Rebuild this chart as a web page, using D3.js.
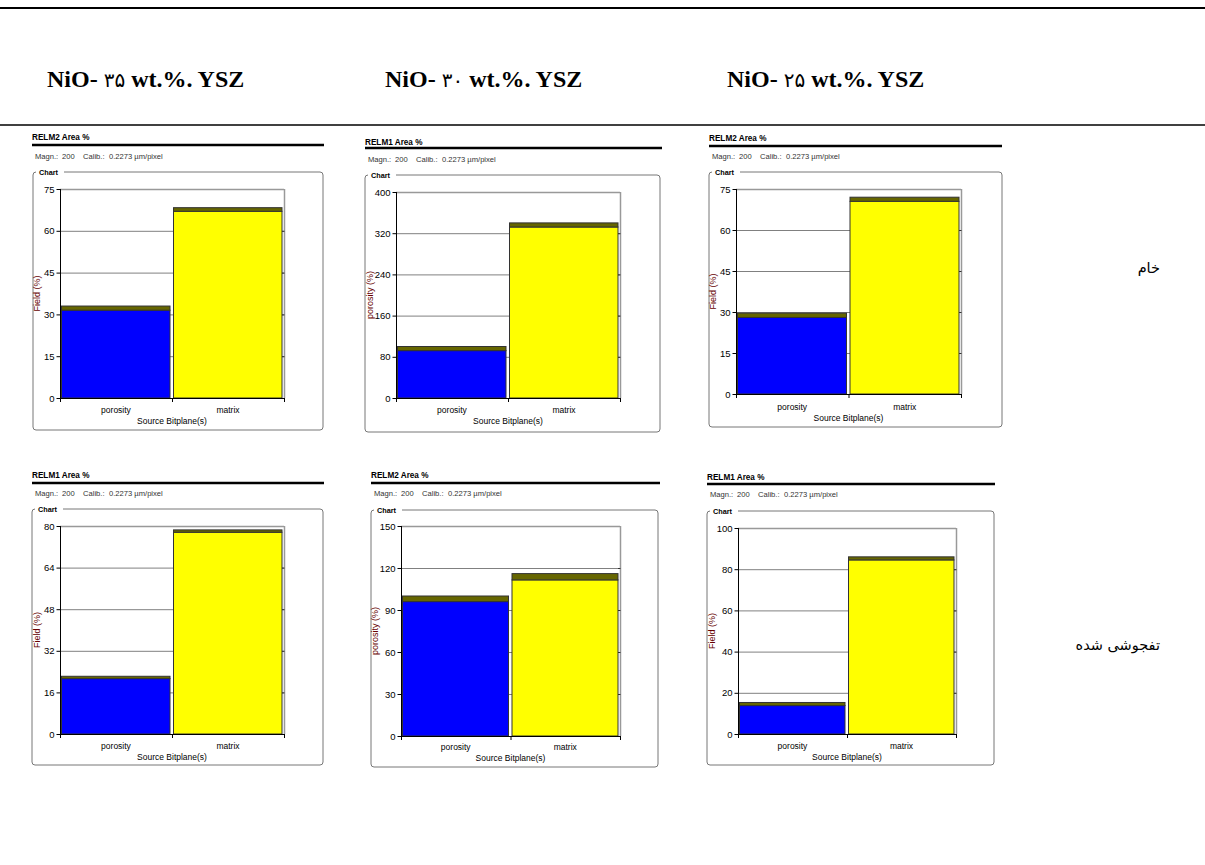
<!DOCTYPE html>
<html><head><meta charset="utf-8">
<script src="https://cdn.jsdelivr.net/npm/d3@7"></script>
<style>html,body{margin:0;padding:0;background:#fff;}svg{display:block;}</style>
</head><body>
<svg id="c" width="1205" height="865"></svg>
<script>
// ---------- data ----------
const columnPrefix = "NiO- ";
const columnNumbers = ["۳۵", "۳۰", "۲۵"];
const columnSuffix = " wt.%. YSZ";
const rowLabels = ["خام", "تفجوشی شده"];
const categories = ["porosity", "matrix"];
const panelTitles = ["RELM2 Area %", "RELM1 Area %", "RELM2 Area %", "RELM1 Area %", "RELM2 Area %", "RELM1 Area %"];
const yTitles = ["Field (%)", "porosity (%)", "Field (%)", "Field (%)", "porosity (%)", "Field (%)"];
const yTicks = [
  [0, 15, 30, 45, 60, 75],
  [0, 80, 160, 240, 320, 400],
  [0, 15, 30, 45, 60, 75],
  [0, 16, 32, 48, 64, 80],
  [0, 30, 60, 90, 120, 150],
  [0, 20, 40, 60, 80, 100]
];
// main value of each bar [porosity, matrix]
const meanValues = [
  [31.5, 67.0],
  [92, 332],
  [28.0, 70.5],
  [21.3, 77.6],
  [96, 111.5],
  [13.8, 84.5]
];
// dark top segment stacked on each bar [porosity, matrix]
const devValues = [
  [1.5, 1.3],
  [8, 8],
  [1.6, 1.5],
  [0.9, 0.9],
  [4, 4.5],
  [1.5, 1.5]
];
const magnLabel = "Magn.:", magnValue = "200", calibLabel = "Calib.:", calibValue = "0.2273 µm/pixel";
const xTitle = "Source Bitplane(s)";

// ---------- layout ----------
const layout = [
  {tx:32, ty:140, ly:145, lx2:324, my:159, box:[33,172,323,430], plot:[60,284,189,398], cy:413, sy:424},
  {tx:365, ty:145, ly:148, lx2:662, my:162, box:[365,175,660,432], plot:[396,620,192,398], cy:413, sy:424},
  {tx:709, ty:141, ly:146, lx2:1002, my:159, box:[709,172,1002,427], plot:[736,961,189,394], cy:410, sy:421},
  {tx:32, ty:478, ly:483, lx2:324, my:496, box:[32,509,323,765], plot:[60,284,526,734], cy:749, sy:760},
  {tx:371, ty:478, ly:483, lx2:660, my:496, box:[371,510,658,767], plot:[401,620,526,736], cy:750, sy:761},
  {tx:707, ty:480, ly:484, lx2:995, my:497, box:[707,511,994,765], plot:[738,956,528,734], cy:749, sy:760}
];
const colors = {porosity:"#0000ff", matrix:"#ffff00", dev:"#666600"};
const sans = "Arial, 'Liberation Sans', sans-serif";

const svg = d3.select("#c");

// header
svg.append("line").attr("x1",0).attr("x2",1205).attr("y1",8).attr("y2",8).attr("stroke","#000").attr("stroke-width",2);
svg.append("line").attr("x1",0).attr("x2",1205).attr("y1",125).attr("y2",125).attr("stroke","#000").attr("stroke-width",1.5);
const headerX = [47, 385, 727];
columnNumbers.forEach((n,i)=>{
  const t = svg.append("text").attr("x",headerX[i]).attr("y",87)
    .attr("font-family","'Liberation Serif','Times New Roman',serif").attr("font-weight","bold")
    .attr("font-size",24).attr("fill","#000");
  t.append("tspan").text(columnPrefix);
  t.append("tspan").attr("font-family","'DejaVu Sans',sans-serif").attr("font-weight","normal").attr("font-size",20).text(n);
  t.append("tspan").text(columnSuffix);
});
const rowY = [273, 650];
rowLabels.forEach((t,i)=>{
  svg.append("text").attr("x",1160).attr("y",rowY[i]).attr("text-anchor","end")
    .attr("font-family","'DejaVu Sans',sans-serif").attr("font-size",14.5).attr("fill","#000").text(t);
});

// panels
layout.forEach((L,p)=>{
  const g = svg.append("g");
  // title + rule
  g.append("text").attr("x",L.tx).attr("y",L.ty).attr("font-family",sans).attr("font-weight","bold")
    .attr("font-size",8.2).attr("fill","#000").text(panelTitles[p]);
  g.append("line").attr("x1",L.tx).attr("x2",L.lx2).attr("y1",L.ly).attr("y2",L.ly).attr("stroke","#000").attr("stroke-width",2.5);
  const mg = g.append("g").attr("font-family",sans).attr("font-size",7.6).attr("fill","#333");
  mg.append("text").attr("x",L.tx+3).attr("y",L.my).text(magnLabel);
  mg.append("text").attr("x",L.tx+30).attr("y",L.my).text(magnValue);
  mg.append("text").attr("x",L.tx+51).attr("y",L.my).text(calibLabel);
  mg.append("text").attr("x",L.tx+77).attr("y",L.my).text(calibValue);

  // chart box
  const [bx0,by0,bx1,by1] = L.box;
  g.append("path").attr("fill","none").attr("stroke","#777").attr("stroke-width",1)
    .attr("d",`M${bx0+31},${by0} H${bx1-3} Q${bx1},${by0} ${bx1},${by0+3} V${by1-3} Q${bx1},${by1} ${bx1-3},${by1} H${bx0+3} Q${bx0},${by1} ${bx0},${by1-3} V${by0+3} Q${bx0},${by0} ${bx0+3},${by0}`);
  g.append("text").attr("x",bx0+6).attr("y",by0+3).attr("font-family",sans).attr("font-weight","bold")
    .attr("font-size",7.3).attr("fill","#000").text("Chart");

  // scales
  const [px0,px1,py0,py1] = L.plot;
  const ticks = yTicks[p];
  const y = d3.scaleLinear().domain([0, d3.max(ticks)]).range([py1, py0]);
  const x = d3.scaleBand().domain(categories).range([px0, px1]).paddingInner(0).paddingOuter(0);

  // gridlines
  g.append("g").selectAll("line").data(ticks.filter(t=>t>0)).join("line")
    .attr("x1",px0).attr("x2",px1).attr("y1",d=>y(d)+0.5).attr("y2",d=>y(d)+0.5)
    .attr("stroke","#808080").attr("stroke-width",1);
  // right / top frame line
  g.append("line").attr("x1",px1+0.5).attr("x2",px1+0.5).attr("y1",py0).attr("y2",py1)
    .attr("stroke","#999").attr("stroke-width",1.5);
  g.append("line").attr("x1",px0).attr("x2",px1).attr("y1",py0+0.5).attr("y2",py0+0.5)
    .attr("stroke","#999").attr("stroke-width",1.5);
  // right-side small ticks
  g.append("g").selectAll("line").data(ticks.filter(t=>t>0 && t<d3.max(ticks))).join("line")
    .attr("x1",px1-2).attr("x2",px1+0.5).attr("y1",d=>y(d)+0.5).attr("y2",d=>y(d)+0.5)
    .attr("stroke","#333").attr("stroke-width",1);

  // bars
  const bars = categories.map((c,i)=>({cat:c, mean:meanValues[p][i], dev:devValues[p][i]}));
  const bg = g.append("g");
  bg.selectAll("rect.main").data(bars).join("rect").attr("class","main")
    .attr("x",d=>x(d.cat)+1.5).attr("width",x.bandwidth()-3.5)
    .attr("y",d=>y(d.mean)).attr("height",d=>y(0)-y(d.mean))
    .attr("fill",d=>colors[d.cat]).attr("stroke","#333").attr("stroke-width",1);
  bg.selectAll("rect.dev").data(bars).join("rect").attr("class","dev")
    .attr("x",d=>x(d.cat)+1.5).attr("width",x.bandwidth()-3.5)
    .attr("y",d=>y(d.mean+d.dev)).attr("height",d=>y(d.mean)-y(d.mean+d.dev))
    .attr("fill",colors.dev).attr("stroke","#333").attr("stroke-width",1);

  // y axis
  const ya = d3.axisLeft(y).tickValues(ticks).tickSize(4).tickPadding(2);
  const yg = g.append("g").attr("transform",`translate(${px0+0.5},0)`).call(ya);
  yg.selectAll("text").attr("font-family",sans).attr("font-size",9.5).attr("fill","#000");
  yg.selectAll("line").attr("stroke","#000");
  yg.select(".domain").attr("stroke","#000").attr("d",`M0,${py0}V${py1}`);

  // x axis (ticks at category boundaries)
  const xg = g.append("g");
  xg.append("line").attr("x1",px0).attr("x2",px1+1).attr("y1",py1+0.5).attr("y2",py1+0.5).attr("stroke","#000");
  const edges = categories.map(c=>x(c)).concat([px1]);
  xg.selectAll("line.t").data(edges).join("line").attr("class","t")
    .attr("x1",d=>d+0.5).attr("x2",d=>d+0.5).attr("y1",py1).attr("y2",py1+4).attr("stroke","#000");
  xg.selectAll("text.c").data(categories).join("text").attr("class","c")
    .attr("x",d=>x(d)+x.bandwidth()/2).attr("y",L.cy).attr("text-anchor","middle")
    .attr("font-family",sans).attr("font-size",8.5).attr("fill","#000").text(d=>d);
  g.append("text").attr("x",(px0+px1)/2).attr("y",L.sy).attr("text-anchor","middle")
    .attr("font-family",sans).attr("font-size",8.5).attr("fill","#000").text(xTitle);

  // y title
  const ytx = px0 - (d3.max(ticks) >= 100 ? 23 : 20);
  g.append("text").attr("transform",`translate(${ytx},${(py0+py1)/2}) rotate(-90)`)
    .attr("text-anchor","middle").attr("font-family",sans).attr("font-size",9).attr("fill","#660000")
    .text(yTitles[p]);
});
</script>
</body></html>
